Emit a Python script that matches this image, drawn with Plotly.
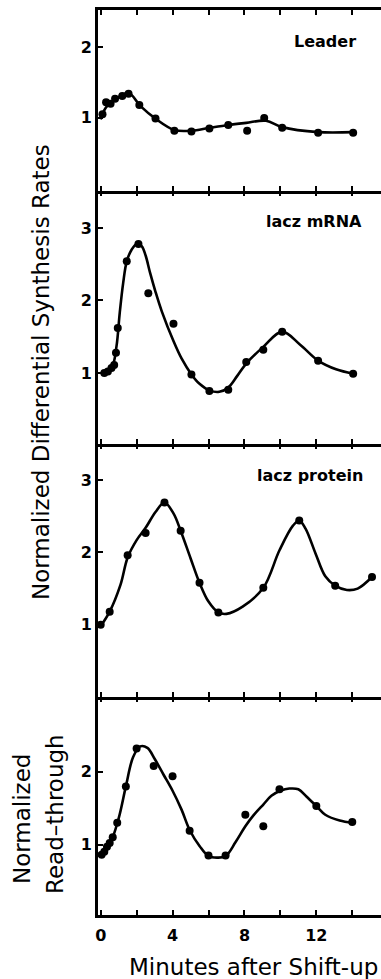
import plotly.graph_objects as go

# ---------------- data ----------------
panel_labels = ["Leader", "lacz mRNA", "lacz protein", ""]

leader_t = [0.1, 0.3, 0.55, 0.8, 1.2, 1.55, 2.15, 3.05, 4.1, 5.05, 6.05, 7.1, 8.15, 9.1, 10.1, 12.1, 14.05]
leader_v = [1.05, 1.22, 1.2, 1.27, 1.31, 1.34, 1.18, 0.99, 0.82, 0.81, 0.85, 0.9, 0.82, 1.0, 0.86, 0.79, 0.79]
leader_fit_t = [0.0, 0.3, 0.8, 1.55, 2.2, 3.05, 4.1, 5.05, 6.05, 7.1, 8.1, 9.2, 10.1, 12.1, 14.05]
leader_fit_v = [0.98, 1.15, 1.26, 1.35, 1.17, 0.99, 0.83, 0.82, 0.86, 0.9, 0.93, 0.96, 0.87, 0.8, 0.8]

mrna_t = [0.2, 0.4, 0.6, 0.75, 0.85, 0.95, 1.45, 2.1, 2.65, 4.05, 5.05, 6.05, 7.1, 8.1, 9.05, 10.1, 12.1, 14.05]
mrna_v = [1.0, 1.02, 1.07, 1.11, 1.28, 1.62, 2.54, 2.78, 2.1, 1.68, 0.98, 0.75, 0.77, 1.15, 1.32, 1.57, 1.17, 0.99]
mrna_fit_t = [0.2, 0.65, 0.88, 1.06, 1.25, 1.45, 1.72, 2.0, 2.28, 2.5, 2.75, 3.05, 3.4, 4.05, 4.5, 5.05, 5.5, 6.05, 6.6, 7.1, 7.6, 8.1, 9.05, 10.1, 11.1, 12.1, 13.1, 14.05]
mrna_fit_v = [1.0, 1.1, 1.37, 1.83, 2.24, 2.54, 2.7, 2.78, 2.75, 2.62, 2.38, 2.12, 1.85, 1.44, 1.2, 0.98, 0.85, 0.76, 0.74, 0.8, 0.96, 1.13, 1.36, 1.57, 1.39, 1.17, 1.05, 0.99]

prot_t = [0.0, 0.5, 1.5, 2.5, 3.55, 4.45, 5.5, 6.55, 9.05, 11.05, 13.05, 15.1]
prot_v = [1.0, 1.18, 1.96, 2.27, 2.69, 2.3, 1.58, 1.17, 1.51, 2.44, 1.54, 1.66]
prot_fit_t = [0.0, 0.5, 1.1, 1.5, 2.0, 2.5, 3.05, 3.55, 4.05, 4.45, 5.0, 5.5, 6.0, 6.55, 7.0, 7.9, 9.05, 9.95, 10.7, 11.05, 11.4, 11.95, 12.5, 13.05, 13.7, 14.3, 15.1]
prot_fit_v = [0.98, 1.18, 1.55, 1.93, 2.17, 2.34, 2.56, 2.69, 2.54, 2.3, 1.92, 1.58, 1.32, 1.17, 1.15, 1.25, 1.51, 2.03, 2.37, 2.44, 2.33, 1.99, 1.67, 1.54, 1.48, 1.5, 1.66]

rt_t = [0.05, 0.2, 0.35, 0.5, 0.67, 0.92, 1.4, 2.0, 2.95, 4.0, 4.95, 6.0, 6.95, 8.05, 9.05, 9.95, 12.0, 14.0]
rt_v = [0.86, 0.9, 0.97, 1.02, 1.1, 1.3, 1.8, 2.32, 2.08, 1.94, 1.19, 0.85, 0.85, 1.41, 1.25, 1.76, 1.53, 1.31]
rt_fit_t = [0.0, 0.5, 1.0, 1.4, 1.8, 2.2, 2.6, 3.0, 3.5, 4.0, 4.5, 4.95, 5.5, 6.0, 6.5, 6.95, 7.5, 8.05, 8.5, 9.05, 9.5, 10.0, 10.5, 11.0, 11.45, 12.0, 12.5, 13.3, 14.0]
rt_fit_v = [0.85, 1.0, 1.36, 1.8, 2.2, 2.35, 2.33, 2.18, 1.96, 1.74, 1.48, 1.2, 0.98, 0.84, 0.82, 0.84, 1.03, 1.25, 1.4, 1.55, 1.67, 1.74, 1.77, 1.76, 1.66, 1.53, 1.41, 1.33, 1.3]

y_ranges = [[-0.03, 2.52], [0.02, 3.51], [0.0, 3.5], [0.03, 3.03]]
y_ticks = [[1, 2], [1, 2, 3], [1, 2, 3], [1, 2]]
x_range = [-0.15, 15.6]
x_tickvals = [0, 2, 4, 6, 8, 10, 12, 14]
x_ticktext = ["0", "", "4", "", "8", "", "12", ""]
label_pos = [(14.32, 2.08), (14.65, 3.09), (14.7, 3.07), None]

series = [
    (leader_t, leader_v, leader_fit_t, leader_fit_v),
    (mrna_t, mrna_v, mrna_fit_t, mrna_fit_v),
    (prot_t, prot_v, prot_fit_t, prot_fit_v),
    (rt_t, rt_v, rt_fit_t, rt_fit_v),
]

# ---------------- figure ----------------
W, H = 381, 979
ml, mr, mt, mb = 98, 0, 10, 64
plot_h = H - mt - mb
bounds_px = [10, 191, 444, 697, 915]
domains = []
for i in range(4):
    top = (H - mb - bounds_px[i]) / plot_h
    bot = (H - mb - bounds_px[i + 1]) / plot_h
    domains.append([max(0, bot), min(1, top)])

fig = go.Figure()
tick_font = dict(family="DejaVu Sans", size=16, color="black", weight="bold")

layout = dict(
    width=W, height=H,
    margin=dict(l=ml, r=mr, t=mt, b=mb),
    paper_bgcolor="white", plot_bgcolor="white",
    showlegend=False,
    font=dict(family="DejaVu Sans", color="black"),
)

tick_common = dict(ticks="inside", ticklen=5, tickwidth=2, tickcolor="black",
                   tickvals=x_tickvals, ticktext=x_ticktext, range=x_range,
                   showgrid=False, zeroline=False, fixedrange=True)

annotations = []
for i, (tp, vp, tf, vf) in enumerate(series):
    n = i + 1
    xa = "x" if n == 1 else f"x{n}"
    ya = "y" if n == 1 else f"y{n}"
    fig.add_trace(go.Scatter(x=tf, y=vf, mode="lines", xaxis=xa, yaxis=ya,
                             line=dict(color="black", width=2.6, shape="spline", smoothing=1.0),
                             hoverinfo="skip"))
    fig.add_trace(go.Scatter(x=tp, y=vp, mode="markers", xaxis=xa, yaxis=ya,
                             marker=dict(color="black", size=8)))
    xkey = "xaxis" if n == 1 else f"xaxis{n}"
    ykey = "yaxis" if n == 1 else f"yaxis{n}"
    layout[xkey] = dict(
        domain=[0, 1], anchor=ya,
        showline=True, linewidth=3, linecolor="black",
        mirror=("ticks" if n == 1 else False),
        showticklabels=(n == 4), tickfont=tick_font,
        ticklabelstandoff=4,
        **tick_common,
    )
    layout[ykey] = dict(
        domain=domains[i], anchor=xa, range=y_ranges[i],
        showline=True, linewidth=3, linecolor="black",
        ticks="inside", ticklen=5, tickwidth=2, tickcolor="black",
        tickvals=y_ticks[i], ticktext=[str(v) for v in y_ticks[i]],
        tickfont=tick_font, showgrid=False, zeroline=False, fixedrange=True,
    )
    if n > 1:
        # ticks on the top edge of the lower panels (pointing down)
        k = 3 + n
        layout[f"xaxis{k}"] = dict(
            overlaying=xa, side="top", anchor=ya, showline=False,
            showticklabels=False, **tick_common,
        )
        fig.add_trace(go.Scatter(x=[None], y=[None], xaxis=f"x{k}", yaxis=ya,
                                 mode="markers", hoverinfo="skip"))
    if label_pos[i] is not None:
        annotations.append(dict(
            text=panel_labels[i], x=label_pos[i][0], y=label_pos[i][1],
            xref=xa, yref=ya, xanchor="right", yanchor="middle", showarrow=False,
            font=dict(family="DejaVu Sans", size=16, color="black", weight="bold"),
        ))

def px_x(px):
    return (px - ml) / (W - ml - mr)

def px_y(py):
    return (H - mb - py) / plot_h

title_font = dict(family="DejaVu Sans", size=23, color="black")
annotations += [
    dict(text="Normalized Differential Synthesis Rates", x=px_x(41), y=px_y(372),
         xref="paper", yref="paper", xanchor="center", yanchor="middle",
         textangle=-90, showarrow=False, font=title_font),
    dict(text="Normalized", x=px_x(22), y=px_y(819),
         xref="paper", yref="paper", xanchor="center", yanchor="middle",
         textangle=-90, showarrow=False, font=title_font),
    dict(text="Read\u2013through", x=px_x(55), y=px_y(814),
         xref="paper", yref="paper", xanchor="center", yanchor="middle",
         textangle=-90, showarrow=False, font=title_font),
    dict(text="Minutes after Shift-up", x=px_x(253), y=px_y(967),
         xref="paper", yref="paper", xanchor="center", yanchor="middle",
         showarrow=False, font=title_font),
]
layout["annotations"] = annotations
fig.update_layout(**layout)
fig.write_html("out.html")
